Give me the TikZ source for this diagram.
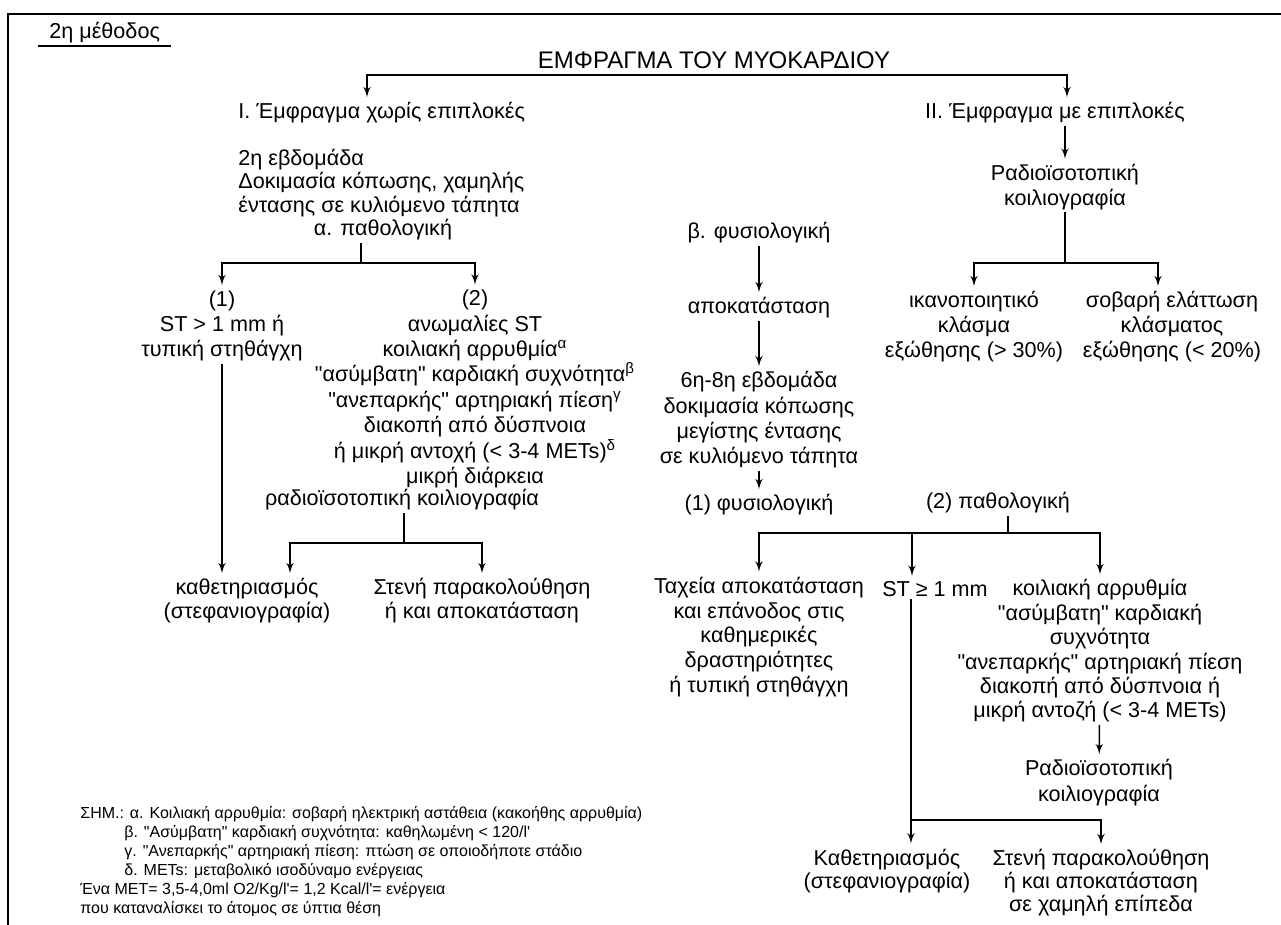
\documentclass[tikz,border=0pt]{standalone}
\usepackage{fontspec}
\setmainfont{Liberation Sans}[Ligatures=TeXOff]
\usepackage{tikz}
\usetikzlibrary{positioning}
\usetikzlibrary{shapes, arrows}
\tikzstyle{line} = [draw, -latex', line width=0.8pt, shorten >=1.5pt]
\tikzstyle{txt} = [inner sep=1pt, align=center, font=\fontsize{10.8}{12.3}\selectfont]
\tikzstyle{note} = [inner sep=0pt, align=left, font=\fontsize{8}{9.5}\selectfont]

\begin{document}
\begin{tikzpicture}[x=0.5pt, y=-0.5pt]
			\useasboundingbox (0,0) rectangle (1281,925);
			\draw[line width=1pt] (8,925) -- (8,14) -- (1281,14);

			\node[txt, anchor=west] at (47,33) (method) {2η μέθοδος};
			\draw[line width=0.8pt] (38,46) -- (171,46);
			\node[txt, font=\fontsize{12}{14}\selectfont] at (714,60) (title) {ΕΜΦΡΑΓΜΑ ΤΟΥ ΜΥΟΚΑΡΔΙΟΥ};

			% I. without complications
			\node[txt, anchor=west] at (236,113) (nI) {I. Έμφραγμα χωρίς επιπλοκές};
			\node[txt, anchor=west, align=left, font=\fontsize{10.8}{11.75}\selectfont] at (236,183) (week) {2η εβδομάδα\\Δοκιμασία κόπωσης, χαμηλής\\έντασης σε κυλιόμενο τάπητα};
			\node[txt] at (383,230) (pathI) {α. παθολογική};
			\node[txt, font=\fontsize{10.8}{12.7}\selectfont] at (222,326) (one) {(1)\\ST > 1 mm ή\\τυπική στηθάγχη};
			\node[txt, font=\fontsize{10.8}{12.7}\selectfont] at (475,389) (two) {(2)\\ανωμαλίες ST\\κοιλιακή αρρυθμία\textsuperscript{α}\\"ασύμβατη" καρδιακή συχνότητα\textsuperscript{β}\\"ανεπαρκής" αρτηριακή πίεση\textsuperscript{γ}\\διακοπή από δύσπνοια\\ή μικρή αντοχή (< 3-4 METs)\textsuperscript{δ}\\μικρή διάρκεια};
			\node[txt] at (402,500) (radioI) {ραδιοϊσοτοπική κοιλιογραφία};
			\node[txt, font=\fontsize{10.8}{12}\selectfont] at (247,601) (cathI) {καθετηριασμός\\(στεφανιογραφία)};
			\node[txt, font=\fontsize{10.8}{12}\selectfont] at (482,601) (followI) {Στενή παρακολούθηση\\ή και αποκατάσταση};

			% II. with complications
			\node[txt] at (1055,113) (nII) {II. Έμφραγμα με επιπλοκές};
			\node[txt, font=\fontsize{10.8}{12.5}\selectfont] at (1065,187) (radioII) {Ραδιοϊσοτοπική\\κοιλιογραφία};
			\node[txt, font=\fontsize{10.8}{12.5}\selectfont] at (974,327) (good) {ικανοποιητικό\\κλάσμα\\εξώθησης (> 30\%)};
			\node[txt, font=\fontsize{10.8}{12.5}\selectfont] at (1172,327) (bad) {σοβαρή ελάττωση\\κλάσματος\\εξώθησης (< 20\%)};

			% b. normal
			\node[txt] at (759,233) (normal) {β. φυσιολογική};
			\node[txt] at (759,308) (rehab) {αποκατάσταση};
			\node[txt, font=\fontsize{10.8}{12.65}\selectfont] at (759,420) (test) {6η-8η εβδομάδα\\δοκιμασία κόπωσης\\μεγίστης έντασης\\σε κυλιόμενο τάπητα};
			\node[txt] at (759,505) (res1) {(1) φυσιολογική};
			\node[txt] at (998,503) (res2) {(2) παθολογική};
			\node[txt, font=\fontsize{10.8}{12.4}\selectfont] at (759,637) (fast) {Ταχεία αποκατάσταση\\και επάνοδος στις\\καθημερικές\\δραστηριότητες\\ή τυπική στηθάγχη};
			\node[txt] at (935,589) (st) {ST ≥ 1 mm};
			\node[txt, font=\fontsize{10.8}{12.2}\selectfont] at (1100,651) (arrh) {κοιλιακή αρρυθμία\\"ασύμβατη" καρδιακή\\συχνότητα\\"ανεπαρκής" αρτηριακή πίεση\\διακοπή από δύσπνοια ή\\μικρή αντοζή (< 3-4 METs)};
			\node[txt, font=\fontsize{10.8}{13}\selectfont] at (1099,783) (radioR) {Ραδιοϊσοτοπική\\κοιλιογραφία};
			\node[txt, font=\fontsize{10.8}{11.75}\selectfont] at (887,871) (cathR) {Καθετηριασμός\\(στεφανιογραφία)};
			\node[txt, font=\fontsize{10.8}{11.5}\selectfont] at (1101,883) (followR) {Στενή παρακολούθηση\\ή και αποκατάσταση\\σε χαμηλή επίπεδα};

			\node[note, anchor=west] at (80,862) (notes) {ΣΗΜ.: α. Κοιλιακή αρρυθμία: σοβαρή ηλεκτρική αστάθεια (κακοήθης αρρυθμία)\\\hspace*{22pt}β. "Ασύμβατη" καρδιακή συχνότητα: καθηλωμένη < 120/l'\\\hspace*{22pt}γ. "Ανεπαρκής" αρτηριακή πίεση: πτώση σε οποιοδήποτε στάδιο\\\hspace*{22pt}δ. METs: μεταβολικό ισοδύναμο ενέργειας\\Ένα MET= 3,5-4,0ml O2/Kg/l'= 1,2 Kcal/l'= ενέργεια\\που καταναλίσκει το άτομος σε ύπτια θέση};

			% connectors
			\coordinate (topL) at (367,75);
			\coordinate (topR) at (1067,75);
			\draw[line, latex'-latex', shorten <=1.5pt] (topL |- nI.north) -- (topL) -- (topR) -- (topR |- nII.north);

			\coordinate (splitI) at (361,263);
			\draw[line width=0.8pt] (splitI |- pathI.south) -- (splitI);
			\draw[line] (splitI) -| (one.north);
			\draw[line] (splitI) -| (two.north);
			\draw[line] (one.south) -- (one.south |- cathI.north);

			\coordinate (splitR1) at (404,543);
			\coordinate (toCath) at (290,543);
			\draw[line width=0.8pt] (splitR1 |- radioI.south) -- (splitR1);
			\draw[line] (splitR1) -- (toCath) -- (toCath |- cathI.north);
			\draw[line] (splitR1) -| (followI.north);

			\draw[line] (radioII.north |- nII.south) -- (radioII.north);
			\coordinate (splitII) at (1065,263);
			\coordinate (toBad) at (1158,263);
			\draw[line width=0.8pt] (radioII.south) -- (splitII);
			\draw[line] (splitII) -| (good.north);
			\draw[line] (splitII) -- (toBad) -- (toBad |- bad.north);

			\draw[line] (normal) -- (rehab);
			\draw[line] (rehab) -- (test);
			\draw[line] (test) -- (res1);

			\coordinate (splitP) at (1008,533);
			\coordinate (toST) at (912,533);
			\draw[line width=0.8pt] (splitP |- res2.south) -- (splitP);
			\draw[line] (splitP) -| (fast.north);
			\draw[line] (splitP) -| (arrh.north);
			\draw[line] (toST) -- (toST |- st.north);
			\draw[line] (arrh) -- (radioR);

			\coordinate (splitS) at (911,820);
			\draw[line] (splitS |- st.south) -- (splitS |- cathR.north);
			\draw[line] (splitS) -| (followR.north);
		\end{tikzpicture}
\end{document}
